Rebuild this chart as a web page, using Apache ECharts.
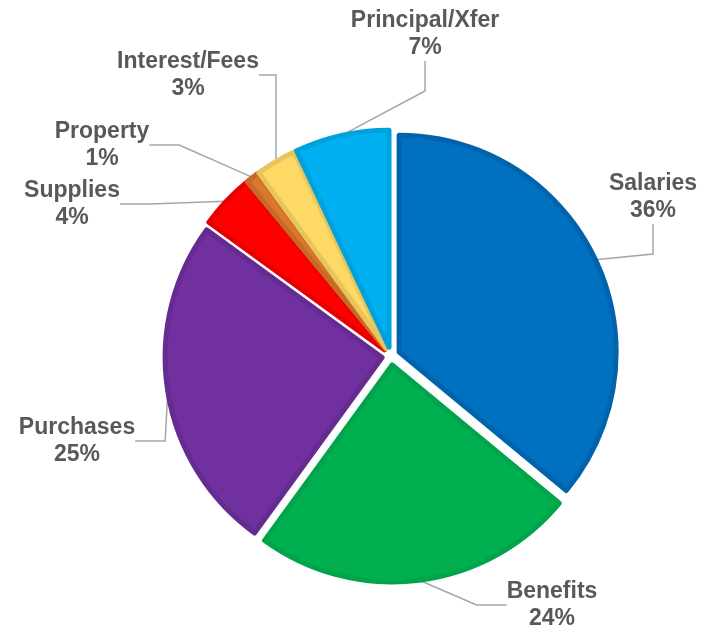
<!DOCTYPE html>
<html>
<head>
<meta charset="utf-8">
<script src="https://cdn.jsdelivr.net/npm/echarts@6/dist/echarts.min.js"></script>
<style>
  html, body { margin: 0; padding: 0; background: #fff; }
  #chart { width: 712px; height: 636px; }
</style>
</head>
<body>
<div id="chart"></div>
<script>
// Spending categories, clockwise from 12 o'clock
const categories = ['Salaries', 'Benefits', 'Purchases', 'Supplies', 'Property', 'Interest/Fees', 'Principal/Xfer'];
const shares = [36, 24, 25, 4, 1, 3, 7];

// Slice fills and their darker outlines
const fillColors = ['#0070C0', '#00B050', '#7030A0', '#FF0000', '#D9782E', '#FFD966', '#00B0F0'];
const edgeColors = ['#0064AC', '#00A44A', '#652B91', '#E80000', '#C86A26', '#E8C55C', '#00A2DC'];

// Where each two-line label sits
const labelSpots = [
  [653, 197], [552, 605], [77, 441], [72, 204], [102, 145], [188, 75], [425, 34]
];

const pieCenter = [391, 356];
const pieRadius = 217;
const explode = 9;

const chart = echarts.init(document.getElementById('chart'));

chart.setOption({
  animation: false,
  backgroundColor: '#ffffff',
  series: [
    {
      // exploded slices
      type: 'pie',
      center: pieCenter,
      radius: [0, pieRadius],
      startAngle: 90,
      clockwise: true,
      selectedMode: 'multiple',
      selectedOffset: explode,
      emphasis: { disabled: true },
      label: { show: false },
      labelLine: { show: false },
      data: categories.map((name, i) => ({
        name: name,
        value: shares[i],
        selected: true,
        itemStyle: {
          color: fillColors[i],
          borderColor: edgeColors[i],
          borderWidth: 5
        }
      }))
    },
    {
      // category labels with leader lines
      type: 'pie',
      center: pieCenter,
      radius: [0, pieRadius + explode],
      startAngle: 90,
      clockwise: true,
      silent: true,
      selectedMode: false,
      emphasis: { disabled: true },
      itemStyle: { color: 'rgba(0,0,0,0)', borderWidth: 0 },
      label: {
        show: true,
        formatter: '{b}\n{c}%',
        fontFamily: 'Liberation Sans, Arial, sans-serif',
        fontWeight: 'bold',
        fontSize: 23,
        lineHeight: 27,
        color: '#595959',
        overflow: 'none',
        bleedMargin: 0
      },
      labelLine: {
        show: true,
        lineStyle: { color: '#A6A6A6', width: 1.5 }
      },
      labelLayout: function (params) {
        const p = labelSpots[params.dataIndex];
        return { x: p[0], y: p[1], align: 'center', verticalAlign: 'middle' };
      },
      data: categories.map((name, i) => ({ name: name, value: shares[i] }))
    }
  ]
});
</script>
</body>
</html>
